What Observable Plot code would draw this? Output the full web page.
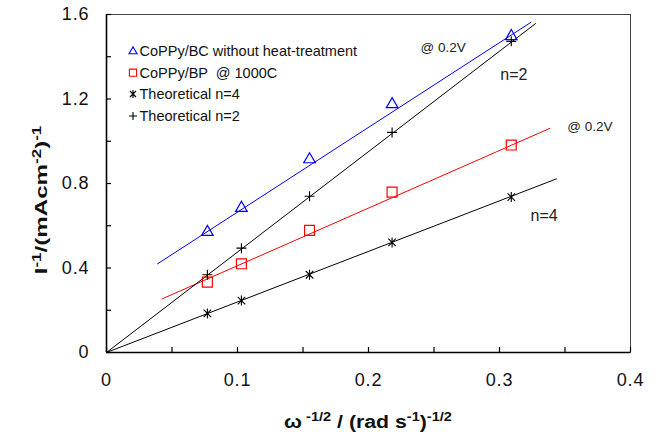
<!DOCTYPE html>
<html><head><meta charset="utf-8">
<script src="https://cdn.jsdelivr.net/npm/d3@7"></script>
<script src="https://cdn.jsdelivr.net/npm/@observablehq/plot@0.6"></script>
<style>
html,body{margin:0;padding:0;background:#fff;}
#chart{width:658px;height:434px;position:relative;}
#chart svg [aria-label="x-axis tick label"] text,
#chart svg [aria-label="y-axis tick label"] text{letter-spacing:0.9px;}
</style></head><body><div id="chart"></div>
<script>
// ---- data ----
const omega = [0.077, 0.103, 0.155, 0.218, 0.309];          // ω^-1/2
const coppyBC = [0.562, 0.676, 0.906, 1.167, 1.489];        // CoPPy/BC without heat-treatment
const coppyBP = [0.333, 0.420, 0.578, 0.759, 0.982];        // CoPPy/BP @ 1000C
const theoN4 = [0.185, 0.246, 0.368, 0.521, 0.736];         // Theoretical n=4
const theoN2 = [0.368, 0.494, 0.740, 1.042, 1.473];         // Theoretical n=2
// fitted trend lines (end points)
const fitBC = [[0.039, 0.420], [0.324, 1.563]];
const fitBP = [[0.0425, 0.254], [0.3384, 1.061]];
const fitN4 = [[0, 0], [0.3435, 0.822]];
const fitN2 = [[0, 0], [0.3275, 1.557]];
// ticks
const xMinor = [0, 0.05, 0.1, 0.15, 0.2, 0.25, 0.3, 0.35, 0.4];
const xLabels = [0, 0.1, 0.2, 0.3, 0.4];
const yMinor = [0, 0.2, 0.4, 0.6, 0.8, 1.0, 1.2, 1.4, 1.6];
const yLabels = [0, 0.4, 0.8, 1.2, 1.6];
// legend
const legendNames = ["CoPPy/BC without heat-treatment", "CoPPy/BP  @ 1000C", "Theoretical n=4", "Theoretical n=2"];
// annotations
const notesSmall = [{label: "@ 0.2V", x: 0.257, y: 1.443}, {label: "@ 0.2V", x: 0.369, y: 1.067}];
const notesLarge = [{label: "n=2", x: 0.311, y: 1.314}, {label: "n=4", x: 0.334, y: 0.649}];

const FONT = "'Liberation Sans', Arial, Helvetica, sans-serif";
const BLUE = "#0000ff", RED = "#ff0000", BLACK = "#000000";

const starSym = {draw(ctx, size) {
  const r = Math.sqrt(size / Math.PI), d = r * 0.75;
  ctx.moveTo(0, -r); ctx.lineTo(0, r);
  ctx.moveTo(-d, -d); ctx.lineTo(d, d);
  ctx.moveTo(-d, d); ctx.lineTo(d, -d);
}};
const plusSym = {draw(ctx, size) {
  const r = Math.sqrt(size / Math.PI);
  ctx.moveTo(0, -r); ctx.lineTo(0, r);
  ctx.moveTo(-r, 0); ctx.lineTo(r, 0);
}};

const pts = (ys) => omega.map((x, i) => ({x, y: ys[i]}));

const W = 658, H = 434, ML = 106, MR = 28, MT = 14, MB = 82;
const innerW = W - ML - MR, innerH = H - MT - MB;

const plot = Plot.plot({
  width: W, height: H,
  marginLeft: ML, marginRight: MR, marginTop: MT, marginBottom: MB,
  x: {domain: [0, 0.4]},
  y: {domain: [0, 1.6]},
  style: {fontFamily: FONT, fontSize: "18px", color: "#111", background: "#fff", overflow: "visible"},
  marks: [
    Plot.frame({stroke: "#444", strokeWidth: 1}),
    Plot.tickX(xMinor, {x: d => d, insetTop: innerH - 5, stroke: BLACK, strokeWidth: 1.2}),
    Plot.tickY(yMinor, {y: d => d, insetRight: innerW - 5, stroke: BLACK, strokeWidth: 1.2}),
    Plot.ruleX([0], {stroke: BLACK, strokeWidth: 1.6}),
    Plot.ruleY([0], {stroke: BLACK, strokeWidth: 1.6}),
    Plot.axisX({ticks: xLabels, tickSize: 0, tickPadding: 21, tickFormat: d => String(d), fontSize: 18, label: null}),
    Plot.axisY({ticks: yLabels, tickSize: 0, tickPadding: 17, tickFormat: d => String(d), fontSize: 18, label: null}),
    Plot.line(fitBC, {x: d => d[0], y: d => d[1], stroke: BLUE, strokeWidth: 1}),
    Plot.line(fitBP, {x: d => d[0], y: d => d[1], stroke: RED, strokeWidth: 1}),
    Plot.line(fitN4, {x: d => d[0], y: d => d[1], stroke: BLACK, strokeWidth: 1}),
    Plot.line(fitN2, {x: d => d[0], y: d => d[1], stroke: BLACK, strokeWidth: 1}),
    Plot.dot(pts(coppyBC), {x: "x", y: "y", symbol: "triangle", r: 4.3, dy: -1.7, stroke: BLUE, fill: "none", strokeWidth: 1.2}),
    Plot.dot(pts(coppyBP), {x: "x", y: "y", symbol: "square", r: 5.6, stroke: RED, fill: "none", strokeWidth: 1.2}),
    Plot.dot(pts(theoN4), {x: "x", y: "y", symbol: starSym, r: 5, stroke: BLACK, fill: "none", strokeWidth: 1.1}),
    Plot.dot(pts(theoN2), {x: "x", y: "y", symbol: plusSym, r: 5, stroke: BLACK, fill: "none", strokeWidth: 1.1}),
    Plot.text(notesSmall, {x: "x", y: "y", text: "label", fontSize: 13.5, fill: "#222"}),
    Plot.text(notesLarge, {x: "x", y: "y", text: "label", fontSize: 16, fill: "#222"})
  ]
});
document.getElementById("chart").appendChild(plot);

const svg = d3.select(plot);

// x-axis title
const xt = svg.append("text")
  .attr("transform", `translate(${ML + innerW / 2},428) scale(1.12,1)`)
  .attr("text-anchor", "middle").attr("font-weight", "bold").attr("font-size", 19)
  .attr("font-family", FONT).attr("fill", "#111");
xt.append("tspan").text("ω");
xt.append("tspan").attr("font-size", 13).attr("dy", -7).text(" -1/2");
xt.append("tspan").attr("font-size", 19).attr("dy", 7).text(" / (rad s");
xt.append("tspan").attr("font-size", 13).attr("dy", -7).text("-1");
xt.append("tspan").attr("font-size", 19).attr("dy", 7).text(")");
xt.append("tspan").attr("font-size", 13).attr("dy", -7).text("-1/2");

// y-axis title
const yt = svg.append("text").attr("transform", "translate(47,200) rotate(-90) scale(1.42,1)")
  .attr("text-anchor", "middle").attr("font-weight", "bold").attr("font-size", 17)
  .attr("font-family", FONT).attr("fill", "#111");
yt.append("tspan").text("I");
yt.append("tspan").attr("font-size", 12).attr("dy", -6).text("-1");
yt.append("tspan").attr("font-size", 17).attr("dy", 6).text("/(mAcm");
yt.append("tspan").attr("font-size", 12).attr("dy", -6).text("-2");
yt.append("tspan").attr("font-size", 17).attr("dy", 6).text(")");
yt.append("tspan").attr("font-size", 12).attr("dy", -6).text("-1");

// legend
const legSyms = [
  {sym: d3.symbolTriangle, size: 28, color: BLUE, dy: 0.8},
  {sym: d3.symbolSquare, size: 52, color: RED, dy: 0},
  {sym: starSym, size: Math.PI * 16, color: BLACK, dy: 0},
  {sym: plusSym, size: Math.PI * 16, color: BLACK, dy: 0}
];
const legY = [50.7, 72.7, 94, 116];
const lg = svg.append("g").attr("font-family", FONT).attr("font-size", 14.5).attr("fill", "#111")
  .attr("text-anchor", "start");
legendNames.forEach((name, i) => {
  lg.append("path").attr("d", d3.symbol(legSyms[i].sym, legSyms[i].size)())
    .attr("transform", `translate(133,${legY[i] + legSyms[i].dy})`)
    .attr("fill", "none").attr("stroke", legSyms[i].color).attr("stroke-width", 1.1);
  lg.append("text").attr("x", 139.5).attr("y", legY[i]).attr("dy", "0.35em")
    .attr("text-anchor", "start")
    .style("white-space", "pre").text(name);
});
</script>
</body></html>
